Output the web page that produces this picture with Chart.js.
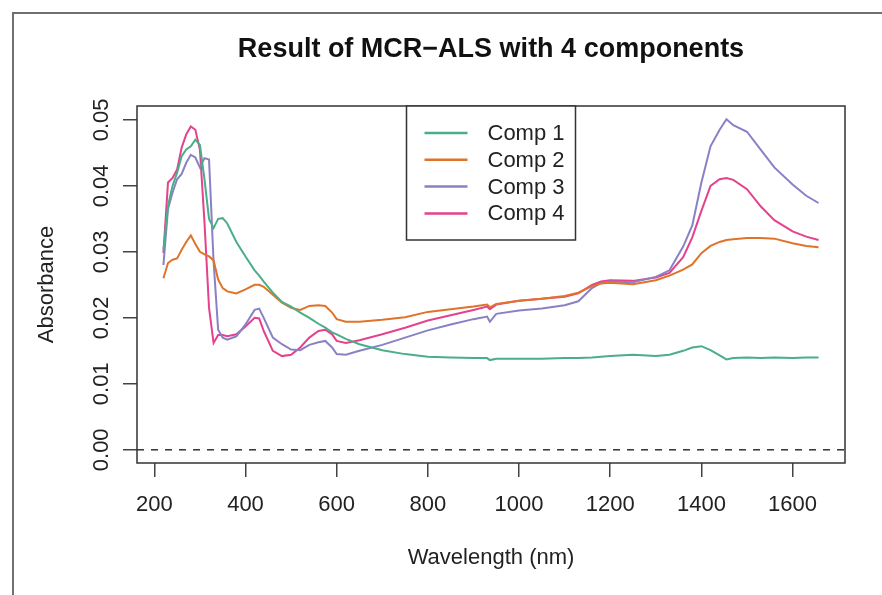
<!DOCTYPE html>
<html>
<head>
<meta charset="utf-8">
<title>Result of MCR-ALS with 4 components</title>
<script src="https://cdn.jsdelivr.net/npm/chart.js@4/dist/chart.umd.min.js"></script>
<style>
  html, body { margin: 0; padding: 0; background: #fff; }
  canvas { display: block; }
</style>
</head>
<body>
<canvas id="chart" width="882" height="595"></canvas>
<script>
// wavelength grid (nm) shared by the four components
const wavelength = [220, 230, 240, 250, 260, 270, 280, 290, 300, 310, 320, 330, 340, 350, 360, 380, 400, 420, 430, 440,
  460, 480, 500, 520, 540, 560, 575, 590, 600, 620, 650, 700, 750, 800, 850, 900, 930, 936, 950, 1000,
  1050, 1100, 1130, 1160, 1180, 1200, 1250, 1300, 1330, 1360, 1380, 1400, 1420, 1440, 1455, 1470, 1500, 1530, 1560, 1600,
  1630, 1657];

const comp1 = [0.0303, 0.0370, 0.0400, 0.0420, 0.0445, 0.0455, 0.0460, 0.0470, 0.0462, 0.0410, 0.0350, 0.0336, 0.0350, 0.0351, 0.0343, 0.0315, 0.0293, 0.0272, 0.0264, 0.0255,
  0.0238, 0.0224, 0.0217, 0.0208, 0.0200, 0.0191, 0.0185, 0.0178, 0.0175, 0.0168, 0.0160, 0.0151, 0.0145, 0.0141, 0.0140, 0.0139, 0.0139, 0.0136, 0.0138, 0.0138,
  0.0138, 0.0139, 0.0139, 0.0140, 0.0141, 0.0142, 0.0144, 0.0142, 0.0144, 0.0150, 0.0155, 0.0157, 0.0151, 0.0143, 0.0137, 0.0139, 0.0140, 0.0139, 0.0140, 0.0139,
  0.0140, 0.0140];

const comp2 = [0.0260, 0.0283, 0.0288, 0.0290, 0.0303, 0.0315, 0.0325, 0.0312, 0.0300, 0.0296, 0.0293, 0.0287, 0.0258, 0.0245, 0.0240, 0.0237, 0.0243, 0.0250, 0.0250, 0.0247,
  0.0235, 0.0223, 0.0215, 0.0212, 0.0218, 0.0219, 0.0218, 0.0208, 0.0198, 0.0194, 0.0194, 0.0197, 0.0201, 0.0209, 0.0213, 0.0217, 0.0220, 0.0216, 0.0221, 0.0226,
  0.0229, 0.0233, 0.0238, 0.0248, 0.0252, 0.0253, 0.0251, 0.0257, 0.0264, 0.0273, 0.0281, 0.0298, 0.0309, 0.0315, 0.0318, 0.0319, 0.0321, 0.0321, 0.0320, 0.0313,
  0.0309, 0.0307];

const comp3 = [0.0280, 0.0365, 0.0390, 0.0410, 0.0418, 0.0435, 0.0447, 0.0443, 0.0428, 0.0442, 0.0440, 0.0285, 0.0182, 0.0170, 0.0167, 0.0172, 0.0190, 0.0212, 0.0214, 0.0200,
  0.0170, 0.0160, 0.0152, 0.0151, 0.0159, 0.0163, 0.0165, 0.0155, 0.0145, 0.0144, 0.0150, 0.0159, 0.0170, 0.0181, 0.0190, 0.0198, 0.0202, 0.0194, 0.0206, 0.0211,
  0.0214, 0.0219, 0.0225, 0.0245, 0.0253, 0.0255, 0.0254, 0.0262, 0.0272, 0.0308, 0.0340, 0.0405, 0.0460, 0.0485, 0.0501, 0.0492, 0.0482, 0.0455, 0.0428, 0.0402,
  0.0385, 0.0374];

const comp4 = [0.0298, 0.0405, 0.0412, 0.0425, 0.0458, 0.0478, 0.0490, 0.0485, 0.0455, 0.0345, 0.0215, 0.0162, 0.0174, 0.0174, 0.0172, 0.0175, 0.0187, 0.0200, 0.0199, 0.0180,
  0.0150, 0.0142, 0.0144, 0.0155, 0.0170, 0.0180, 0.0182, 0.0175, 0.0165, 0.0162, 0.0166, 0.0175, 0.0185, 0.0196, 0.0204, 0.0212, 0.0217, 0.0213, 0.0220, 0.0226,
  0.0229, 0.0232, 0.0237, 0.0250, 0.0255, 0.0257, 0.0256, 0.0261, 0.0268, 0.0292, 0.0322, 0.0362, 0.0400, 0.0410, 0.0412, 0.0409, 0.0395, 0.0369, 0.0348, 0.0331,
  0.0323, 0.0318];

const seriesNames = ['Comp 1', 'Comp 2', 'Comp 3', 'Comp 4'];
const seriesColors = ['#4aae89', '#e0732a', '#8882c4', '#e5418d'];
const xTicks = [200, 400, 600, 800, 1000, 1200, 1400, 1600];
const yTicks = [0.00, 0.01, 0.02, 0.03, 0.04, 0.05];
const xRange = [162, 1715];
const yRange = [-0.002, 0.0521];
const chartTitle = 'Result of MCR\u2212ALS with 4 components';

const FONT = "'Liberation Sans', Arial, Helvetica, sans-serif";

const toPoints = vals => wavelength.map((w, i) => ({ x: w, y: vals[i] }));

const datasets = [comp1, comp2, comp3, comp4].map((vals, i) => ({
  label: seriesNames[i],
  data: toPoints(vals),
  borderColor: seriesColors[i],
  borderWidth: 2,
  pointRadius: 0,
  tension: 0
}));

// dashed reference line at zero
datasets.push({
  label: 'zero',
  data: [{ x: xRange[0], y: 0 }, { x: xRange[1], y: 0 }],
  borderColor: '#333',
  borderWidth: 1.5,
  borderDash: [7, 7],
  pointRadius: 0
});

// outer figure frame (left + top edges only), title over the plot, plot box
const framePlugin = {
  id: 'frame',
  beforeDraw(chart) {
    const { ctx, chartArea: a } = chart;
    ctx.save();
    ctx.fillStyle = '#fff';
    ctx.fillRect(0, 0, chart.width, chart.height);
    ctx.strokeStyle = '#707070';
    ctx.lineWidth = 2;
    ctx.beginPath();
    ctx.moveTo(13, chart.height);
    ctx.lineTo(13, 13);
    ctx.lineTo(chart.width, 13);
    ctx.stroke();
    // main title, centred on the plot region like R does
    ctx.fillStyle = '#111';
    ctx.font = 'bold 27px ' + FONT;
    ctx.textAlign = 'center';
    ctx.textBaseline = 'middle';
    ctx.fillText(chartTitle, (a.left + a.right) / 2, 50);
    ctx.restore();
  },
  afterDatasetsDraw(chart) {
    const { ctx, chartArea: a } = chart;
    ctx.save();
    ctx.strokeStyle = '#333';
    ctx.lineWidth = 1.5;
    ctx.strokeRect(a.left, a.top, a.right - a.left, a.bottom - a.top);
    ctx.restore();
  }
};

// R-style boxed legend at the top centre of the plot
const boxLegend = {
  id: 'boxLegend',
  afterDraw(chart) {
    const { ctx, chartArea: a } = chart;
    const w = 169, h = 134, rowH = 26.8;
    const left = (a.left + a.right) / 2 - w / 2;
    const top = a.top;
    ctx.save();
    ctx.fillStyle = '#fff';
    ctx.fillRect(left, top, w, h);
    ctx.strokeStyle = '#333';
    ctx.lineWidth = 1.5;
    ctx.strokeRect(left, top, w, h);
    ctx.font = '22px ' + FONT;
    ctx.textBaseline = 'middle';
    ctx.fillStyle = '#222';
    seriesNames.forEach((name, i) => {
      const y = top + 27 + i * rowH;
      ctx.strokeStyle = seriesColors[i];
      ctx.lineWidth = 2.5;
      ctx.beginPath();
      ctx.moveTo(left + 18, y);
      ctx.lineTo(left + 61, y);
      ctx.stroke();
      ctx.fillText(name, left + 81, y + 1);
    });
    ctx.restore();
  }
};

new Chart(document.getElementById('chart'), {
  type: 'line',
  data: { datasets },
  plugins: [framePlugin, boxLegend],
  options: {
    responsive: false,
    animation: false,
    layout: { padding: { left: 0, right: 37, top: 106, bottom: 0 } },
    plugins: {
      legend: { display: false },
      tooltip: { enabled: false },
      title: { display: false }
    },
    scales: {
      x: {
        type: 'linear',
        min: xRange[0],
        max: xRange[1],
        afterBuildTicks: s => { s.ticks = xTicks.map(v => ({ value: v })); },
        afterFit: s => { s.height = 132; },
        border: { display: false },
        grid: { drawOnChartArea: false, drawTicks: true, tickLength: 14, color: '#444', lineWidth: 1.5 },
        ticks: {
          color: '#222',
          font: { family: FONT, size: 22 },
          padding: 15,
          maxRotation: 0,
          autoSkip: false,
          callback: v => String(v)
        },
        title: {
          display: true,
          text: 'Wavelength (nm)',
          color: '#222',
          font: { family: FONT, size: 22 },
          padding: { top: 0, bottom: 24 }
        }
      },
      y: {
        type: 'linear',
        min: yRange[0],
        max: yRange[1],
        afterBuildTicks: s => { s.ticks = yTicks.map(v => ({ value: v })); },
        afterFit: s => { s.width = 137; },
        border: { display: false },
        grid: { drawOnChartArea: false, drawTicks: true, tickLength: 14, color: '#444', lineWidth: 1.5 },
        ticks: {
          color: '#222',
          font: { family: FONT, size: 22 },
          padding: 0,
          minRotation: 90,
          maxRotation: 90,
          crossAlign: 'center',
          callback: v => v.toFixed(2)
        },
        title: {
          display: true,
          text: 'Absorbance',
          color: '#222',
          font: { family: FONT, size: 22 },
          padding: { top: 34, bottom: 0 }
        }
      }
    }
  }
});
</script>
</body>
</html>
